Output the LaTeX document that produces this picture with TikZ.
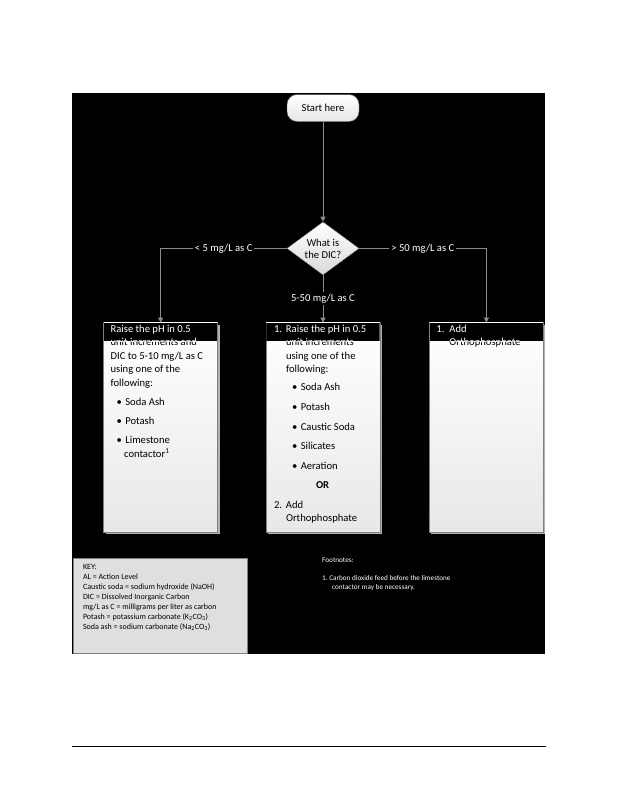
\documentclass[tikz,border=0pt]{standalone}
\usepackage{fontspec}
\setmainfont{Carlito}
\usetikzlibrary{positioning, arrows.meta, shapes.geometric, shadows}

\newcommand{\bitem}[1]{\hspace*{6pt}\textbullet\hspace{3.5pt}#1}
\newcommand{\lefttext}{Raise the pH in 0.5\\
unit increments and\\
DIC to 5-10 mg/L as C\\
using one of the\\
following:\\[5.6pt]
\bitem{Soda Ash}\\[6.4pt]
\bitem{Potash}\\[5.6pt]
\bitem{Limestone}\\
\hspace*{13.5pt}contactor\textsuperscript{1}}
\newcommand{\midtext}{\makebox[12pt][l]{1.}Raise the pH in 0.5\\
\hspace*{12pt}unit increments\\
\hspace*{12pt}using one of the\\
\hspace*{12pt}following:\\[4.8pt]
\hspace*{12pt}\bitem{Soda Ash}\\[6.2pt]
\hspace*{12pt}\bitem{Potash}\\[6.2pt]
\hspace*{12pt}\bitem{Caustic Soda}\\[6.2pt]
\hspace*{12pt}\bitem{Silicates}\\[6.2pt]
\hspace*{12pt}\bitem{Aeration}\\[5.8pt]
\hspace*{42pt}\textbf{OR}\\[6.6pt]
\makebox[12pt][l]{2.}Add\\
\hspace*{12pt}Orthophosphate}
\newcommand{\righttext}{\makebox[13pt][l]{1.}Add\\
\hspace*{13pt}Orthophosphate}

\begin{document}
\begin{tikzpicture}[x=1pt, y=-1pt,
    startbox/.style={rectangle, rounded corners=10pt, draw=gray!70!black, top color=white, bottom color=gray!20, minimum width=72pt, minimum height=27pt, inner sep=0pt, font=\fontsize{10.6}{13.4}\selectfont},
    decision/.style={diamond, draw=gray, top color=white, bottom color=gray!30, minimum width=72pt, minimum height=53pt, inner sep=0pt, aspect=1.36, align=center, font=\fontsize{10.6}{12}\selectfont},
    flowbox/.style={rectangle, draw=gray, top color=white, bottom color=gray!18, minimum width=114pt, minimum height=209pt, drop shadow={shadow xshift=2pt, shadow yshift=-2pt, fill=gray!60, opacity=1}},
    boxtext/.style={anchor=north west, inner sep=0pt, text width=106pt, align=flush left, font=\fontsize{10.6}{13.4}\selectfont},
    arrowline/.style={draw=gray!90, line width=0.8pt, -{Triangle[length=5pt, width=5pt]}},
    edgelabel/.style={fill=black, text=white, inner sep=2pt, font=\fontsize{10.6}{13.4}\selectfont},
]
\useasboundingbox (0,0) rectangle (618,800);
\fill[black] (72,93) rectangle (545,654);

% flow chart
\node[startbox] (start) at (323,108) {Start here};
\node[decision] (dic) [below = 100pt of start] {What is\\the DIC?};
\node[flowbox] (mbox) [below = 47.5pt of dic] {};
\node[flowbox] (lbox) [left = 48pt of mbox] {};
\node[flowbox] (rbox) [right = 49pt of mbox] {};

\draw[arrowline] (start) -- (dic);
\draw[arrowline] (dic.west) -| node[pos=0.25, edgelabel]{< 5 mg/L as C} (lbox.north);
\draw[arrowline] (dic.east) -| node[pos=0.25, edgelabel]{> 50 mg/L as C} (rbox.north);
\draw[arrowline] (dic.south) -- node[edgelabel]{5-50 mg/L as C} (mbox.north);

% box texts, first line on a black band
\node[boxtext] (ltext) at ([xshift=7pt, yshift=-2.3pt]lbox.north west) {\lefttext};
\node[boxtext] (mtext) at ([xshift=8pt, yshift=-2.3pt]mbox.north west) {\midtext};
\node[boxtext] (rtext) at ([xshift=7pt, yshift=-2.3pt]rbox.north west) {\righttext};
\foreach \b/\t/\txt in {lbox/ltext/\lefttext, mbox/mtext/\midtext, rbox/rtext/\righttext}{
  \begin{scope}
    \clip ([xshift=0.5pt]\b.north west) rectangle ([xshift=-0.5pt, yshift=-18.5pt]\b.north east);
    \fill[black] ([xshift=0.5pt]\b.north west) rectangle ([xshift=-0.5pt, yshift=-18.5pt]\b.north east);
    \node[boxtext, text=white] at (\t.north west) {\txt};
  \end{scope}
}

% key and footnotes
\node[rectangle, draw=gray, fill=gray!25, minimum width=174pt, minimum height=95pt] (key) at (160,605.5) {};
\node[anchor=north west, inner sep=0pt, align=left, font=\fontsize{8}{10}\selectfont] (keytext) at ([xshift=10pt, yshift=-6pt]key.north west) {KEY:\\
AL = Action Level\\
Caustic soda = sodium hydroxide (NaOH)\\
DIC = Dissolved Inorganic Carbon\\
mg/L as C = milligrams per liter as carbon\\
Potash = potassium carbonate (K\textsubscript{2}CO\textsubscript{3})\\
Soda ash = sodium carbonate (Na\textsubscript{2}CO\textsubscript{3})};
\node[anchor=north west, inner sep=0pt, align=left, text=white, font=\fontsize{7.2}{9}\selectfont] (foot) at (322,557.5) {Footnotes:\\[9.5pt]
1.\ Carbon dioxide feed before the limestone\\
\hspace*{10pt}contactor may be necessary.};

\draw[line width=1pt] (72,746) -- (546,746);
\end{tikzpicture}
\end{document}
